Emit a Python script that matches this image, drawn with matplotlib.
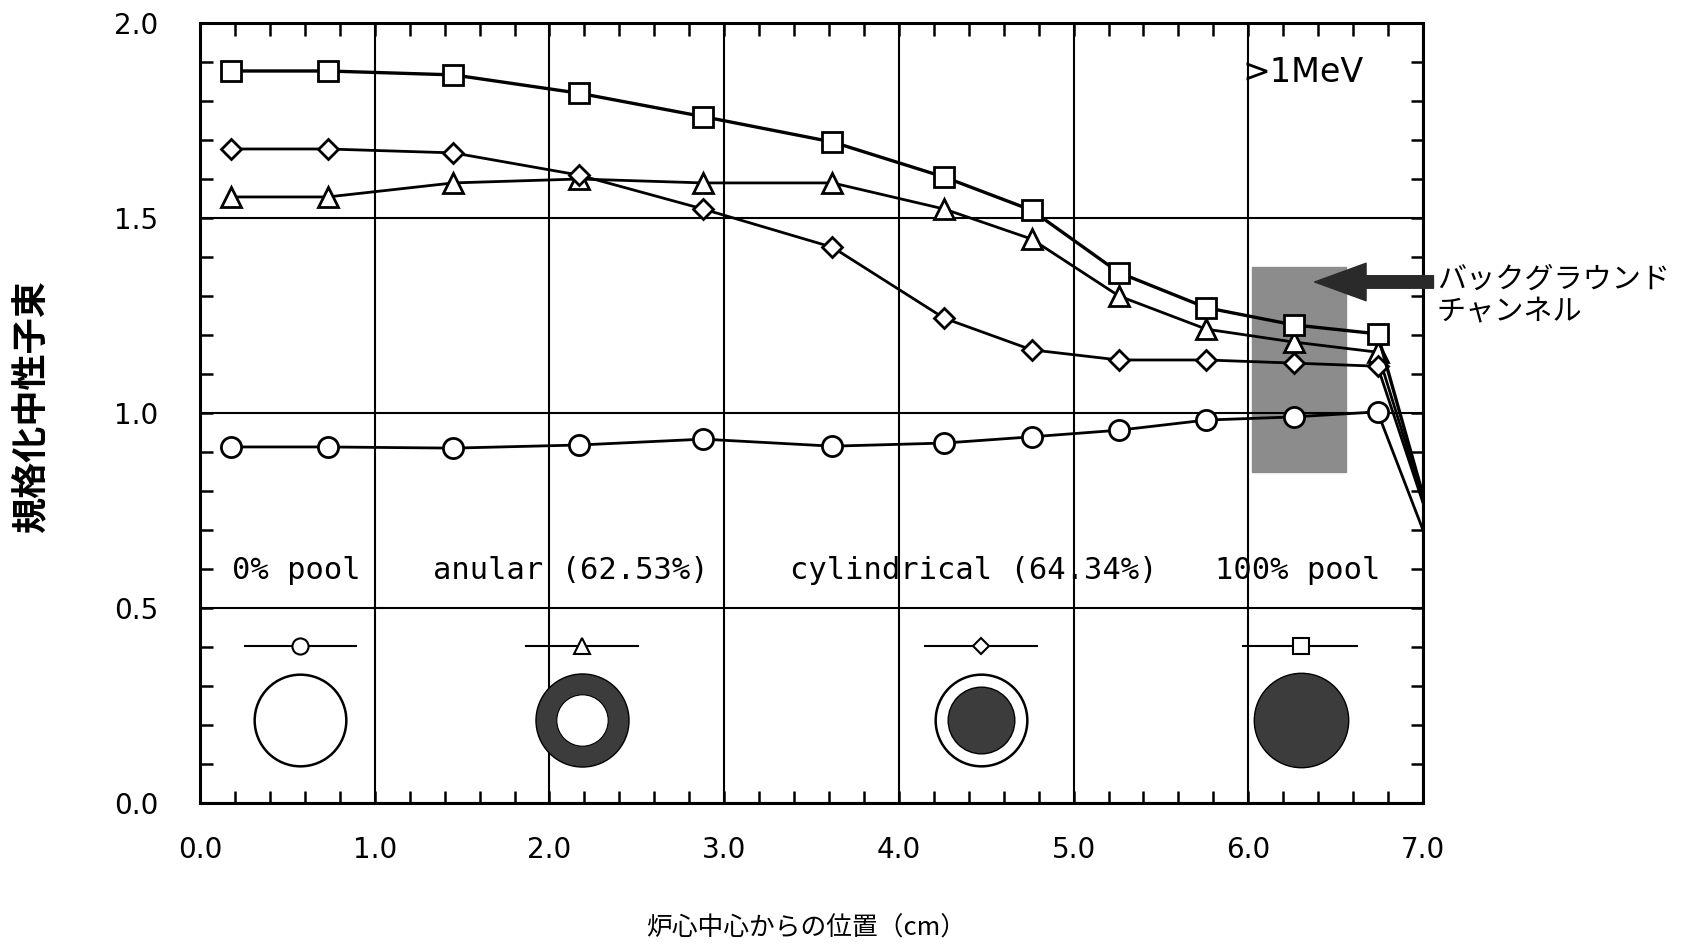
import numpy as np
import matplotlib.pyplot as plt
from matplotlib.ticker import MultipleLocator, FormatStrFormatter

plt.rcParams['font.family'] = ['DejaVu Sans', 'Noto Sans CJK JP']

# position from the core centre (cm); last point sits on the right edge
position = [0.18, 0.73, 1.45, 2.17, 2.88, 3.62, 4.26, 4.76, 5.26, 5.76, 6.26, 6.74, 7.0]

# normalized neutron flux (>1MeV) for each core type
pool_0 = [0.913, 0.913, 0.91, 0.918, 0.933, 0.915, 0.923, 0.939, 0.956, 0.982, 0.99, 1.003, 0.70]
anular = [1.554, 1.554, 1.59, 1.60, 1.59, 1.59, 1.523, 1.446, 1.30, 1.215, 1.182, 1.156, 0.78]
cylindrical = [1.677, 1.677, 1.667, 1.61, 1.523, 1.425, 1.243, 1.162, 1.136, 1.136, 1.128, 1.12, 0.77]
pool_100 = [1.877, 1.877, 1.867, 1.82, 1.76, 1.695, 1.605, 1.52, 1.36, 1.27, 1.226, 1.203, 0.79]

series = [pool_0, anular, cylindrical, pool_100]
markers = ['o', '^', 'D', 's']
msizes = [14.5, 15, 10.5, 15]
lwidths = [2, 2, 2, 2.4]

region_labels = ['0% pool', 'anular (62.53%)', 'cylindrical (64.34%)', '100% pool']
region_text_x = [0.55, 2.12, 4.43, 6.28]
legend_x = [0.572, 2.187, 4.47, 6.30]
legend_span = [(0.258, 0.893), (1.866, 2.507), (4.15, 4.79), (5.97, 6.62)]

fig = plt.figure(figsize=(16.91, 9.51), dpi=100)
ax = fig.add_axes([0.1183, 0.1556, 0.7232, 0.8202])

# background channel
ax.add_patch(plt.Rectangle((6.02, 0.849), 0.54, 0.525, color='#8c8c8c', zorder=1))

every = list(range(len(position) - 1))
for vals, m, ms, lw in zip(series, markers, msizes, lwidths):
    ax.plot(position, vals, color='black', lw=lw, marker=m, ms=ms, mfc='white',
            mec='black', mew=2, markevery=every, zorder=3)

# region names and legend samples
for lab, tx in zip(region_labels, region_text_x):
    ax.text(tx, 0.597, lab, family='DejaVu Sans Mono', fontsize=22,
            ha='center', va='center')
for (x0, x1), mx, m, ms in zip(legend_span, legend_x, markers, msizes):
    ax.plot([x0, x1], [0.403, 0.403], color='black', lw=1.5, zorder=3)
    ax.plot([mx], [0.403], marker=m, ms=ms * 0.8, mfc='white', mec='black',
            mew=1.5, zorder=4)

# cross-section icons
icon_y = 0.213
dark = '#3c3c3c'
ax.scatter([legend_x[0]], [icon_y], s=66**2, fc='white', ec='black', lw=1.8, zorder=3)
ax.scatter([legend_x[1]], [icon_y], s=67**2, fc=dark, ec='black', lw=1, zorder=3)
ax.scatter([legend_x[1]], [icon_y], s=37**2, fc='white', ec='black', lw=0.8, zorder=4)
ax.scatter([legend_x[2]], [icon_y], s=66**2, fc='white', ec='black', lw=1.8, zorder=3)
ax.scatter([legend_x[2]], [icon_y], s=48**2, fc=dark, ec='black', lw=1, zorder=4)
ax.scatter([legend_x[3]], [icon_y], s=68**2, fc=dark, ec='black', lw=1, zorder=3)

ax.text(5.965, 1.872, '>1MeV', fontsize=24, ha='left', va='center')

ax.annotate('', xy=(6.38, 1.336), xytext=(7.06, 1.336), xycoords='data',
            arrowprops=dict(arrowstyle='simple,head_length=1.85,head_width=1.35,tail_width=0.45',
                            fc='#2a2a2a', ec='#2a2a2a', mutation_scale=20,
                            shrinkA=0, shrinkB=0),
            annotation_clip=False)
ax.text(7.08, 1.30, 'バックグラウンド\nチャンネル', family='Noto Sans CJK JP',
        fontsize=21, ha='left', va='center', linespacing=1.15, clip_on=False)

ax.set_xlim(0, 7)
ax.set_ylim(0, 2)
ax.xaxis.set_major_locator(MultipleLocator(1))
ax.xaxis.set_minor_locator(MultipleLocator(0.2))
ax.yaxis.set_major_locator(MultipleLocator(0.5))
ax.yaxis.set_minor_locator(MultipleLocator(0.1))
ax.xaxis.set_major_formatter(FormatStrFormatter('%.1f'))
ax.yaxis.set_major_formatter(FormatStrFormatter('%.1f'))
ax.grid(which='major', color='black', lw=1.5)
ax.tick_params(which='both', direction='in', top=True, right=True,
               length=9, width=1.8, labelsize=20)
ax.tick_params(axis='x', pad=24)
ax.tick_params(axis='y', pad=30)
for sp in ax.spines.values():
    sp.set_linewidth(2.2)

fig.text(0.477, 0.024, '炉心中心からの位置（cm）', family='Noto Sans CJK JP',
         fontsize=18.5, ha='center', va='center')
fig.text(0.019, 0.572, '規格化中性子束', family='Noto Sans CJK JP', fontsize=26,
         fontweight='bold', rotation=90, ha='center', va='center')

fig.savefig('out.png', dpi=100)
